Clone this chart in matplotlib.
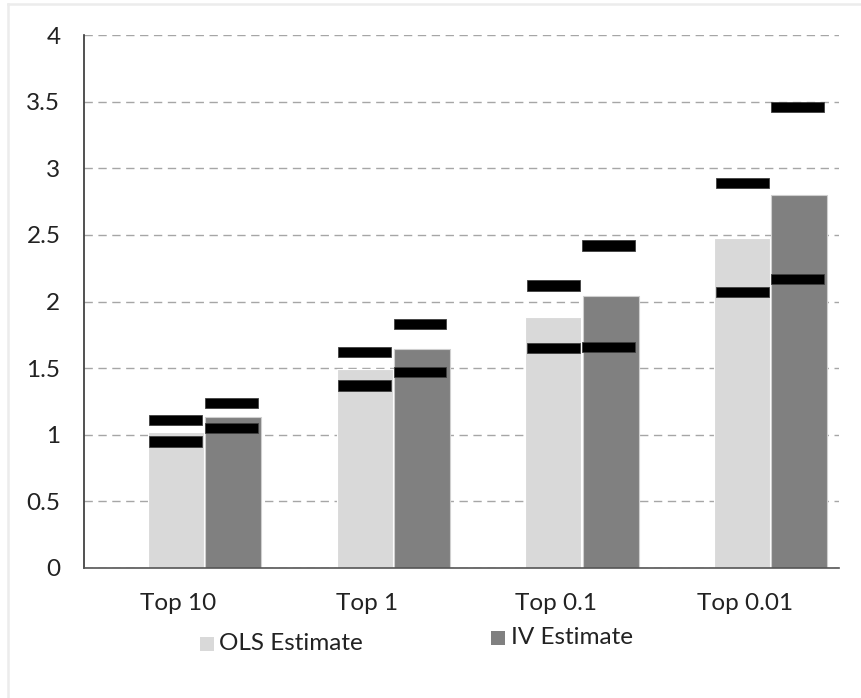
import matplotlib
matplotlib.use("Agg")
import matplotlib.pyplot as plt
from matplotlib.patches import Rectangle
from matplotlib.lines import Line2D
import numpy as np

plt.rcParams['font.family'] = ['Lato', 'DejaVu Sans']

categories = ["Top 10", "Top 1", "Top 0.1", "Top 0.01"]
ols_est = [1.02, 1.49, 1.88, 2.48]
iv_est = [1.13, 1.64, 2.04, 2.80]
ols_upper = [1.11, 1.62, 2.12, 2.89]
ols_lower = [0.95, 1.37, 1.65, 2.07]
iv_upper = [1.24, 1.83, 2.42, 3.46]
iv_lower = [1.05, 1.47, 1.66, 2.17]
y_ticks = [0, 0.5, 1, 1.5, 2, 2.5, 3, 3.5, 4]
y_tick_labels = ["0", "0.5", "1", "1.5", "2", "2.5", "3", "3.5", "4"]

W, H = 861, 698
fig = plt.figure(figsize=(W / 100, H / 100), dpi=100)
ax = fig.add_axes([84 / W, 1 - 568 / H, (839 - 84) / W, (568 - 35) / H])

x = np.arange(len(categories))
bw = 0.296
ols_off, iv_off = -0.013, 0.29
mark_w, mark_h = 0.28, 0.078

ax.bar(x + ols_off, ols_est, width=bw, color="#d9d9d9", edgecolor="white", linewidth=0.8, zorder=2)
ax.bar(x + iv_off, iv_est, width=bw, color="#808080", edgecolor="#cfcfcf", linewidth=0.8, zorder=2)

for vals, off in [(ols_upper, ols_off), (ols_lower, ols_off), (iv_upper, iv_off - 0.01), (iv_lower, iv_off - 0.01)]:
    v = np.array(vals)
    ax.bar(x + off, [mark_h] * len(v), bottom=v - mark_h / 2, width=mark_w,
           color="black", edgecolor="#404040", linewidth=0.6, zorder=3)

ax.set_xlim(-0.5, 3.5)
ax.set_ylim(0, 4)
ax.set_yticks(y_ticks)
ax.set_yticklabels(y_tick_labels)
ax.set_xticks(x)
ax.set_xticklabels(categories)
ax.tick_params(axis="both", length=0, labelsize=17.5, colors="#222222")
ax.tick_params(axis="y", pad=17)
ax.tick_params(axis="x", pad=18)

ax.yaxis.grid(True, color="#a6a6a6", linestyle=(0, (6, 4)), linewidth=1.0, zorder=0)
ax.set_axisbelow(True)
for s in ["top", "right"]:
    ax.spines[s].set_visible(False)
ax.spines["left"].set_color("#333333")
ax.spines["bottom"].set_color("#555555")
ax.spines["left"].set_linewidth(1.2)
ax.spines["bottom"].set_linewidth(1.2)

# legend entries
fig.add_artist(Rectangle((200 / W, 1 - 651 / H), 14 / W, 14 / H, transform=fig.transFigure,
                         facecolor="#d9d9d9", edgecolor="none"))
fig.text(219 / W, 1 - 644 / H, "OLS Estimate", fontsize=17.5, va="center", ha="left", color="#222222")
fig.add_artist(Rectangle((491 / W, 1 - 645 / H), 14 / W, 14 / H, transform=fig.transFigure,
                         facecolor="#808080", edgecolor="none"))
fig.text(511 / W, 1 - 637 / H, "IV Estimate", fontsize=17.5, va="center", ha="left", color="#222222")

# outer frame
fig.add_artist(Line2D([8 / W, 8 / W], [0, 1 - 4 / H], transform=fig.transFigure, color="#ececec", linewidth=1.8))
fig.add_artist(Line2D([8 / W, 1], [1 - 4 / H, 1 - 4 / H], transform=fig.transFigure, color="#ececec", linewidth=1.8))

fig.savefig("out.png", dpi=100)
